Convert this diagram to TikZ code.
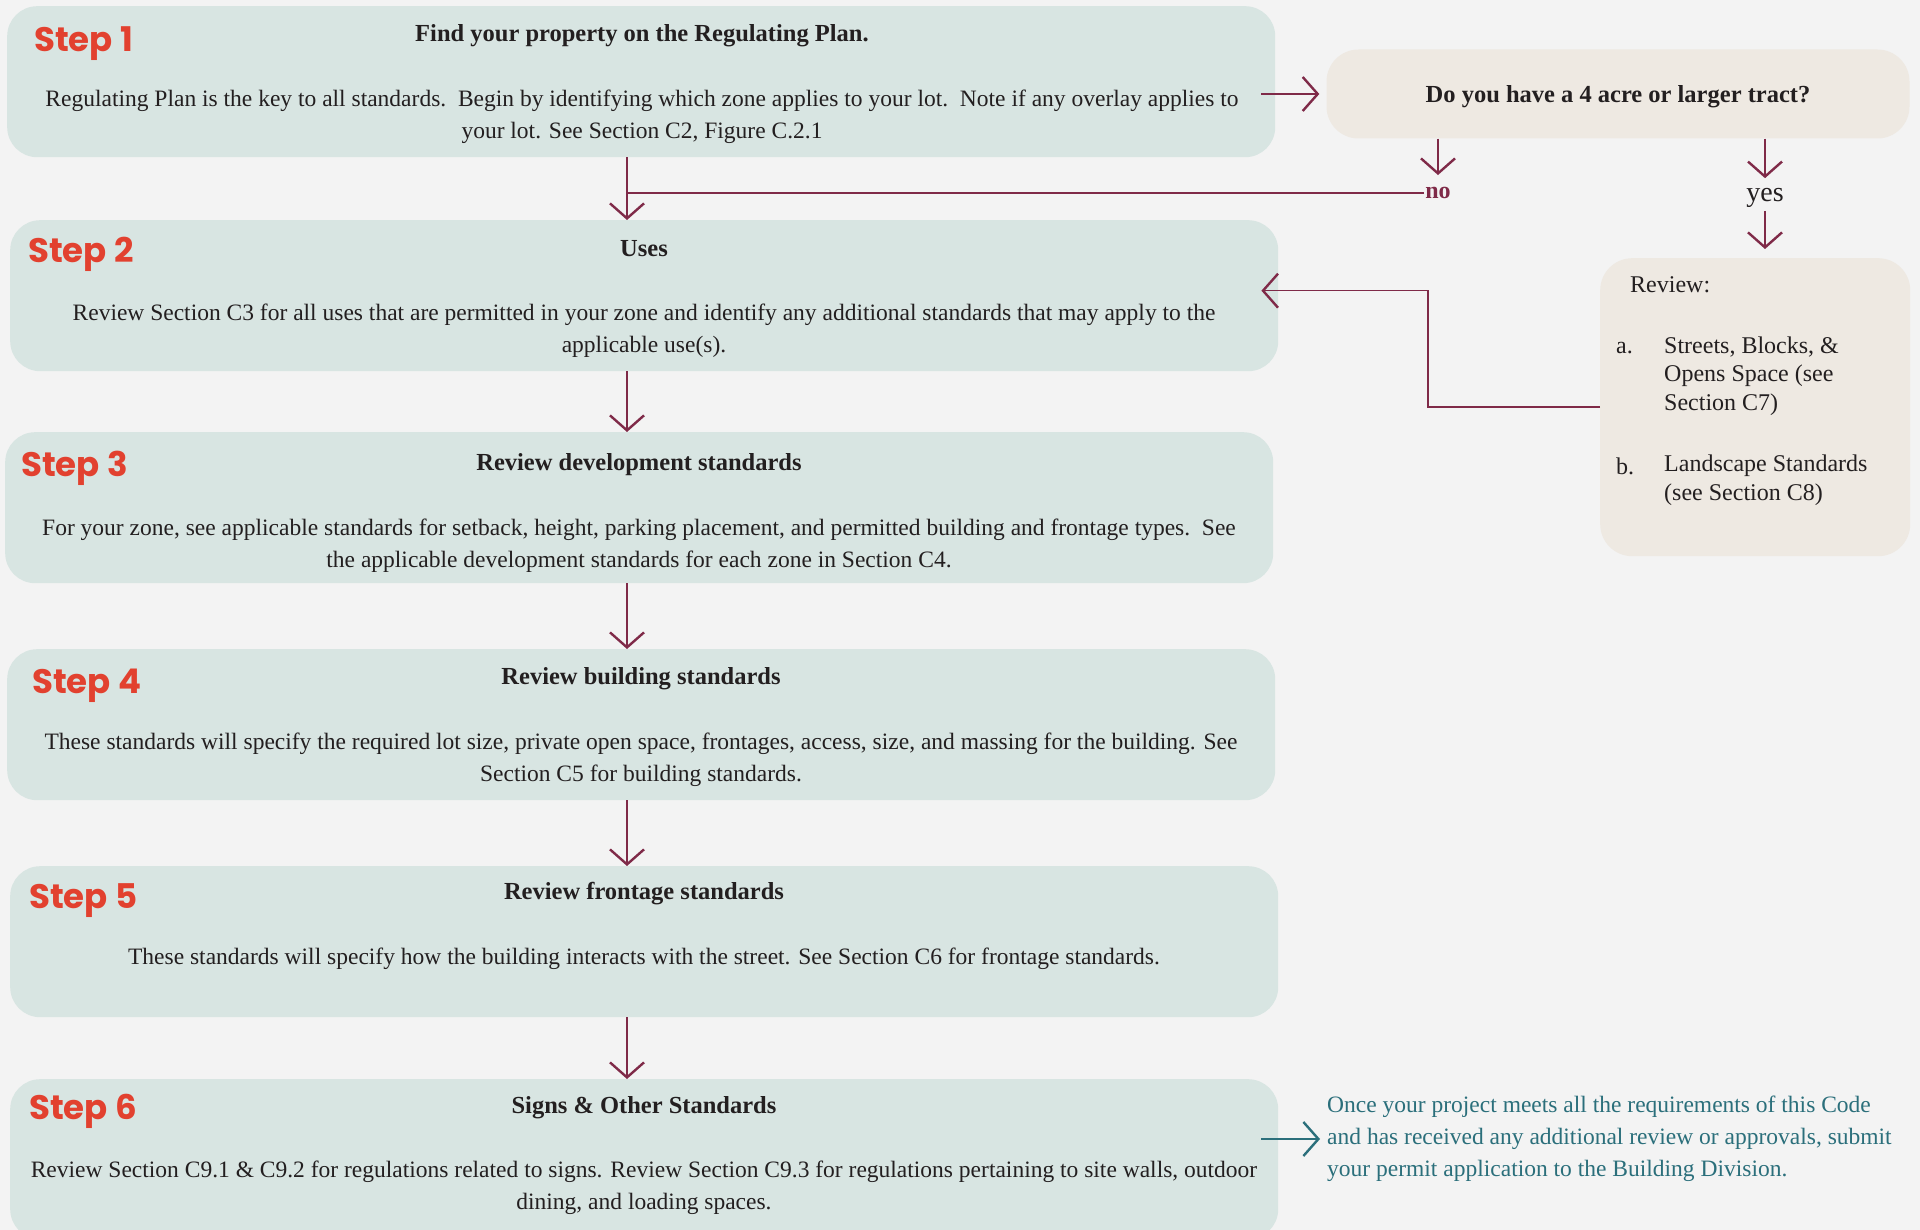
\documentclass[tikz,border=0pt]{standalone}
\usepackage{fontspec}
\setmainfont{Liberation Serif}
\newfontfamily\stepfont{Poppins}
\usepackage{xcolor}
\usetikzlibrary{positioning, arrows.meta}
\definecolor{hintergrund}{HTML}{F3F3F3}
\definecolor{kastenteal}{HTML}{D8E5E2}
\definecolor{kastenbeige}{HTML}{EEE9E2}
\definecolor{weinrot}{HTML}{7F2A48}
\definecolor{stufenrot}{HTML}{E2412F}
\definecolor{petrol}{HTML}{2B6F7B}
\definecolor{tinte}{HTML}{231F20}
\tikzset{
    stepbox/.style  = {fill=kastenteal, rounded corners=30pt, anchor=north west,
                       minimum width=1268pt, minimum height=151pt, inner sep=0pt},
    askbox/.style   = {fill=kastenbeige, rounded corners=32pt, inner sep=0pt},
    steplbl/.style  = {font=\stepfont\bfseries\fontsize{34}{34}\selectfont,
                       text=stufenrot, anchor=west, inner sep=0pt},
    titel/.style    = {font=\bfseries\fontsize{24.5}{28}\selectfont, text=tinte, inner sep=0pt},
    rumpf/.style    = {font=\fontsize{23.5}{32}\selectfont, text=tinte, align=center, inner sep=0pt},
    liste/.style    = {font=\fontsize{24}{28.5}\selectfont, text=tinte, align=left,
                       anchor=west, inner sep=0pt},
    link/.style     = {draw=weinrot, line width=1.4pt,
                       -{Straight Barb[length=15pt, width=34pt, line width=2.4pt]}},
    wire/.style     = {draw=weinrot, line width=1.4pt},
    tealink/.style  = {draw=petrol, line width=1.4pt,
                       -{Straight Barb[length=15pt, width=34pt, line width=2.4pt]}}
}
\begin{document}
\begin{tikzpicture}[x=1pt, y=-1pt]
    \useasboundingbox (0,0) rectangle (1920,1230);
    \fill[hintergrund] (0,0) rectangle (1920,1230);

    % Schritte
    \node[stepbox] (s1) at (7,6)    {};
    \node[stepbox] (s2) at (10,220) {};
    \node[stepbox] (s3) at (5,432)  {};
    \node[stepbox] (s4) at (7,649)  {};
    \node[stepbox] (s5) at (10,866) {};
    \node[stepbox, minimum height=160pt] (s6) at (10,1079) {};

    \node[steplbl] (l1) at (34,44)   {Step 1};
    \node[steplbl] (l2) at (28,254)  {Step 2};
    \node[steplbl] (l3) at (21,468)  {Step 3};
    \node[steplbl] (l4) at (32,686)  {Step 4};
    \node[steplbl] (l5) at (29,901)  {Step 5};
    \node[steplbl] (l6) at (29,1111) {Step 6};

    \node[titel] (t1) at (642,36)   {Find your property on the Regulating Plan.};
    \node[titel] (t2) at (644,249)  {Uses};
    \node[titel] (t3) at (639,465)  {Review development standards};
    \node[titel] (t4) at (641,679)  {Review building standards};
    \node[titel] (t5) at (644,894)  {Review frontage standards};
    \node[titel] (t6) at (644,1108) {Signs \& Other Standards};

    \node[rumpf] (b1) at (642,117) {Regulating Plan is the key to all standards.\ \ Begin by identifying which zone applies to your lot.\ \ Note if any overlay applies to\\your lot. See Section C2, Figure C.2.1};
    \node[rumpf] (b2) at (644,331) {Review Section C3 for all uses that are permitted in your zone and identify any additional standards that may apply to the\\applicable use(s).};
    \node[rumpf] (b3) at (639,546) {For your zone, see applicable standards for setback, height, parking placement, and permitted building and frontage types.\ \ See\\the applicable development standards for each zone in Section C4.};
    \node[rumpf] (b4) at (641,760) {These standards will specify the required lot size, private open space, frontages, access, size, and massing for the building. See\\Section C5 for building standards.};
    \node[rumpf] (b5) at (644,959) {These standards will specify how the building interacts with the street. See Section C6 for frontage standards.};
    \node[rumpf] (b6) at (644,1188) {Review Section C9.1 \& C9.2 for regulations related to signs. Review Section C9.3 for regulations pertaining to site walls, outdoor\\dining, and loading spaces.};

    % Abzweig
    \node[askbox, minimum width=583pt, minimum height=89pt, text depth=0pt,
          font=\bfseries\fontsize{24.5}{28}\selectfont, text=tinte] (q) at (1618,94)
          {Do you have a 4 acre or larger tract?};
    \node[font=\bfseries\fontsize{24}{24}\selectfont, text=weinrot, inner sep=1pt] (nein) at (1438,193) {no};
    \node[font=\fontsize{28}{28}\selectfont, text=tinte, inner sep=1pt] (ja) at (1765,198) {yes};

    \node[askbox, anchor=north west, minimum width=310pt, minimum height=298pt] (rev) at (1600,258) {};
    \node[liste] (rkopf) at (1630,285) {Review:};
    \node[liste] (pa) at (1616,348) {a.};
    \node[liste] (ia) at (1664,376) {Streets, Blocks, \&\\Opens Space (see\\Section C7)};
    \node[liste] (pb) at (1616,466) {b.};
    \node[liste] (ib) at (1664,480) {Landscape Standards\\(see Section C8)};

    \node[font=\fontsize{23.5}{32}\selectfont, text=petrol, align=left, anchor=west, inner sep=0pt] (fin) at (1327,1139)
          {Once your project meets all the requirements of this Code\\and has received any additional review or approvals, submit\\your permit application to the Building Division.};

    % Verbindungen
    \coordinate (achse) at (627,0);
    \draw[link] (s1.south -| achse) -- (s2.north -| achse);
    \draw[link] (s2.south -| achse) -- (s3.north -| achse);
    \draw[link] (s3.south -| achse) -- (s4.north -| achse);
    \draw[link] (s4.south -| achse) -- (s5.north -| achse);
    \draw[link] (s5.south -| achse) -- (s6.north -| achse);

    \draw[link, shorten <=-14pt, shorten >=7pt] (s1.east |- q.west) -- (q.west);
    \draw[link, shorten >=11pt] (q.south -| nein) -- (nein.north);
    \draw[wire] (nein.west) -- (nein.west -| achse);
    \draw[link, shorten >=9pt] (q.south -| ja) -- (ja.north);
    \draw[link, shorten <=2pt, shorten >=9pt] (ja.south) -- (rev.north -| ja);
    \draw[link, shorten >=-17pt] (rev.west) -- ++(-172,0) |- ([yshift=5pt]s2.east);

    \draw[tealink, shorten <=-17pt, shorten >=7pt] (s6.east |- fin.west) -- (fin.west);
\end{tikzpicture}
\end{document}
